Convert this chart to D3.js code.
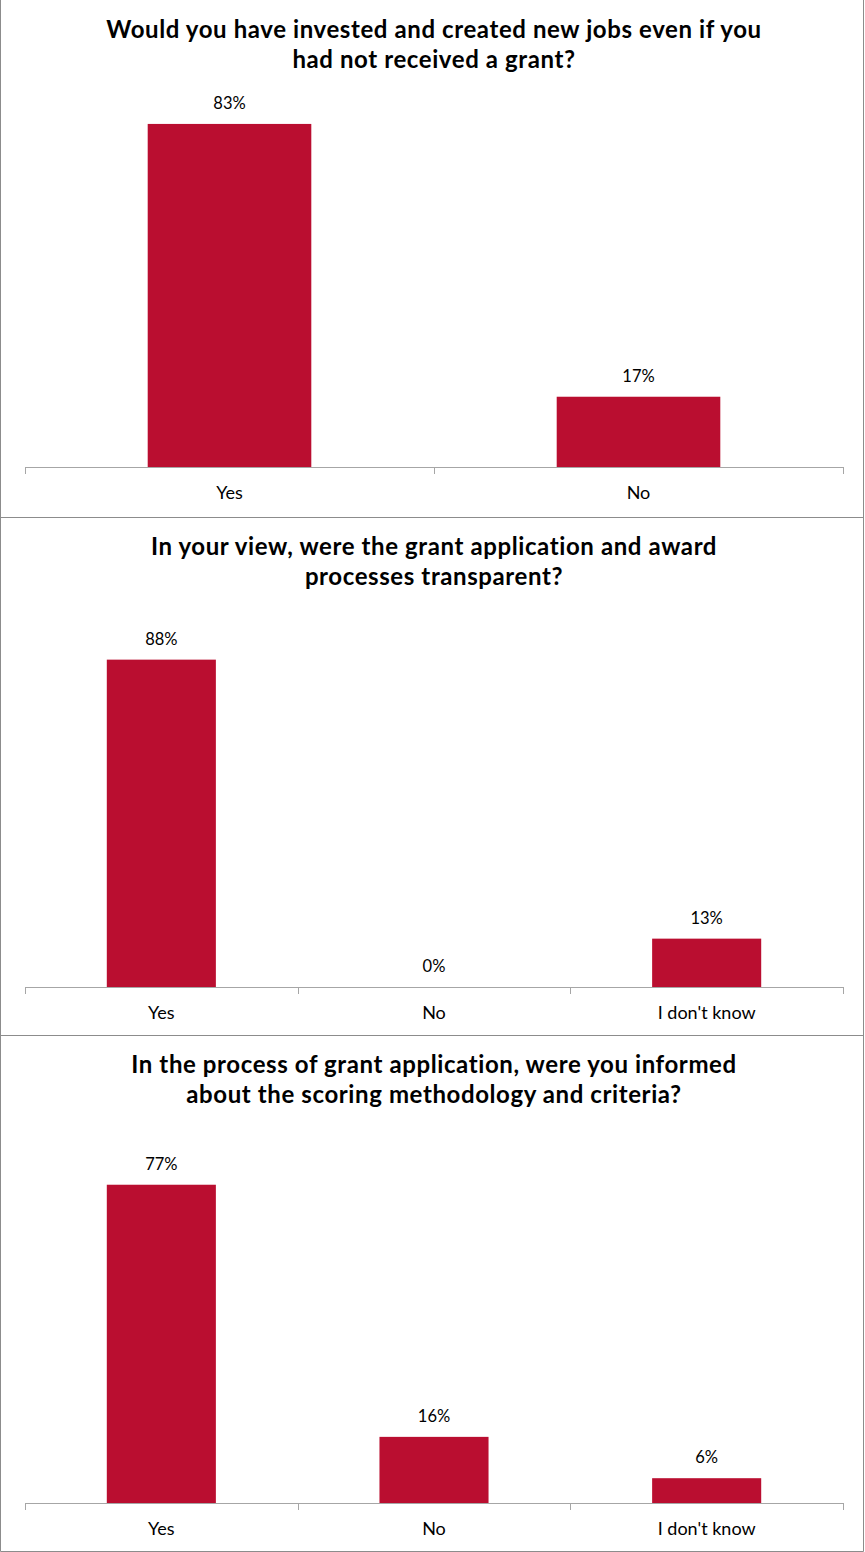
<!DOCTYPE html>
<html>
<head>
<meta charset="utf-8">
<script src="https://cdn.jsdelivr.net/npm/d3@7"></script>
<style>
  html, body { margin: 0; padding: 0; background: #fff; }
  svg { display: block; }
  text { font-family: "Lato", "Open Sans", sans-serif; fill: #000; }
</style>
</head>
<body>
<svg id="chart" width="865" height="1552"></svg>
<script>
// Survey questions, one panel each
const titles = [
  ["Would you have invested and created new jobs even if you", "had not received a grant?"],
  ["In your view, were the grant application and award", "processes transparent?"],
  ["In the process of grant application, were you informed", "about the scoring methodology and criteria?"]
];
const categories1 = ["Yes", "No"];
const values1 = [83, 17];
const categories2 = ["Yes", "No", "I don't know"];
const values2 = [88, 0, 13];
const categories3 = ["Yes", "No", "I don't know"];
const values3 = [77, 16, 6];
// hidden value-axis maximum for each panel
const axisMax = [90, 100, 90];

const panels = [
  { cats: categories1, vals: values1 },
  { cats: categories2, vals: values2 },
  { cats: categories3, vals: values3 }
];

const W = 865;
const panelTops = [0, 517, 1035];
const panelBottoms = [517, 1035, 1551];
const axisYs = [467, 987, 1503];
const plotH = 372;
const axisLeft = 25, axisRight = 843;
const barColor = "#BA0E30";
const lineColor = "#a6a6a6";
const borderColor = "#8c8c8c";

const svg = d3.select("#chart");

panels.forEach((p, i) => {
  const g = svg.append("g");
  const top = panelTops[i];
  const bottom = panelBottoms[i];

  // panel frame: sides and bottom
  const frame = d3.path();
  frame.moveTo(0.5, top);
  frame.lineTo(0.5, bottom + 0.5);
  frame.lineTo(W - 1.5, bottom + 0.5);
  frame.lineTo(W - 1.5, top);
  g.append("path")
    .attr("d", frame.toString())
    .attr("fill", "none").attr("stroke", borderColor).attr("stroke-width", 1);

  // title
  const t = g.append("text")
    .attr("text-anchor", "middle")
    .style("font-weight", "bold")
    .style("font-size", "24px")
    .style("letter-spacing", "0.6px");
  titles[i].forEach((line, k) => {
    t.append("tspan")
      .attr("x", 434)
      .attr("y", top + 38 + k * 30)
      .text(line);
  });

  const x = d3.scaleBand()
    .domain(p.cats)
    .range([axisLeft, axisRight])
    .paddingInner(0.6)
    .paddingOuter(0.3);
  const step = (axisRight - axisLeft) / p.cats.length;

  const y = d3.scaleLinear()
    .domain([0, axisMax[i]])
    .range([axisYs[i], axisYs[i] - plotH]);

  // bars
  g.selectAll("rect.bar")
    .data(p.vals)
    .enter().append("rect")
    .attr("class", "bar")
    .attr("x", (d, j) => x(p.cats[j]))
    .attr("y", d => y(d))
    .attr("width", x.bandwidth())
    .attr("height", d => y(0) - y(d))
    .attr("fill", barColor);

  // value labels
  g.selectAll("text.val")
    .data(p.vals)
    .enter().append("text")
    .attr("class", "val")
    .attr("text-anchor", "middle")
    .attr("x", (d, j) => x(p.cats[j]) + x.bandwidth() / 2)
    .attr("y", d => y(d) - 15)
    .style("font-size", "16.5px")
    .text(d => d + "%");

  // category axis
  const ax = g.append("g").attr("transform", `translate(0,${axisYs[i]})`);
  ax.append("line")
    .attr("x1", axisLeft).attr("x2", axisRight)
    .attr("y1", 0.5).attr("y2", 0.5)
    .attr("stroke", lineColor);
  d3.range(p.cats.length + 1).forEach(k => {
    const tx = Math.round(axisLeft + k * step) + 0.5;
    ax.append("line")
      .attr("x1", tx).attr("x2", tx)
      .attr("y1", 0).attr("y2", 7)
      .attr("stroke", lineColor);
  });
  ax.selectAll("text.cat")
    .data(p.cats)
    .enter().append("text")
    .attr("class", "cat")
    .attr("text-anchor", "middle")
    .attr("x", d => x(d) + x.bandwidth() / 2)
    .attr("y", 32)
    .style("font-size", "18px")
    .text(d => d);
});
</script>
</body>
</html>
